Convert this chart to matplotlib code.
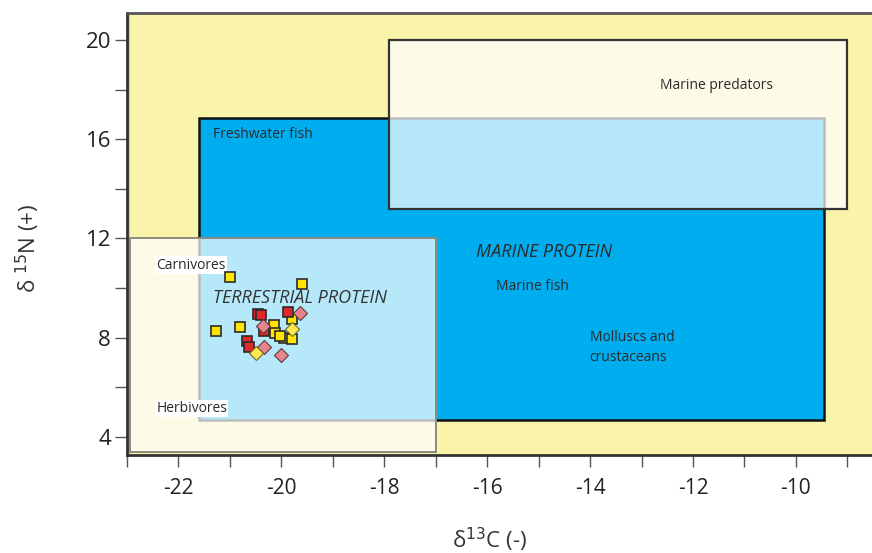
import matplotlib
matplotlib.use("Agg")
import matplotlib.pyplot as plt
from matplotlib.patches import Rectangle
from matplotlib.ticker import MultipleLocator, FixedLocator

# ---- data ----
# yellow squares
ysq_x = [-20.99, -19.60, -21.27, -20.80, -20.15, -19.80, -20.12, -19.95, -19.80, -20.02]
ysq_y = [10.46, 10.15, 8.27, 8.42, 8.52, 8.75, 8.19, 7.98, 7.94, 8.05]
# red squares
rsq_x = [-20.46, -20.40, -19.88, -20.34, -20.66, -20.62]
rsq_y = [8.95, 8.90, 9.03, 8.25, 7.85, 7.61]
# pink diamonds
pdi_x = [-19.63, -20.36, -20.33, -20.00]
pdi_y = [8.99, 8.48, 7.61, 7.29]
# yellow diamonds
ydi_x = [-19.80, -20.49]
ydi_y = [8.36, 7.38]

# regions (x0, x1, y0, y1)
freshwater_box = [-21.6, -9.45, 4.68, 16.85]
predators_box = [-17.9, -9.0, 13.2, 20.0]
terrestrial_box = [-22.94, -17.0, 3.4, 12.0]

x_major = [-22, -20, -18, -16, -14, -12, -10]
y_major = [4, 8, 12, 16, 20]

W, H = 872, 553
fig = plt.figure(figsize=(W / 100, H / 100), dpi=100)
fig.patch.set_facecolor("white")
ax = fig.add_axes([127 / W, 1 - 455 / H, 1 - 127 / W, (455 - 13) / H])
ax.set_xlim(-23, -8.52)
ax.set_ylim(3.27, 21.09)
ax.set_facecolor("#FAF4AA")

def box(b, **kw):
    x0, x1, y0, y1 = b
    ax.add_patch(Rectangle((x0, y0), x1 - x0, y1 - y0, **kw))

# tan strip along the left spine
ax.axvspan(-23, terrestrial_box[0], color="#CFC79A", zorder=0.5, lw=0)
box(freshwater_box, fc="#00AEEF", ec="#111111", lw=1.8, zorder=1)
box(predators_box, fc=(1, 1, 1, 0.72), ec="#333333", lw=1.6, zorder=2)
box(terrestrial_box, fc=(1, 1, 1, 0.72), ec="#8a8a80", lw=1.4, zorder=2)

tfont = ["Open Sans", "DejaVu Sans"]
tc = "#2a2a2a"
ax.text(-11.54, 18.15, "Marine predators", fontsize=10, family=tfont, color=tc,
        ha="center", va="center", zorder=5)
ax.text(-21.32, 16.2, "Freshwater fish", fontsize=10, family=tfont, color=tc,
        ha="left", va="center", zorder=5)
ax.text(-16.21, 11.45, "MARINE PROTEIN", fontsize=13, family=tfont, style="italic",
        color=tc, ha="left", va="center", zorder=5)
ax.text(-15.82, 10.08, "Marine fish", fontsize=10, family=tfont, color=tc,
        ha="left", va="center", zorder=5)
ax.text(-14.01, 7.6, "Molluscs and\ncrustaceans", fontsize=10, family=tfont, color=tc,
        ha="left", va="center", linespacing=1.4, zorder=5)
ax.text(-21.32, 9.6, "TERRESTRIAL PROTEIN", fontsize=13, family=tfont, style="italic",
        color="#333333", ha="left", va="center", zorder=5)
ax.text(-22.43, 10.93, "Carnivores", fontsize=10, family=tfont, color=tc,
        ha="left", va="center", zorder=5,
        bbox=dict(fc="white", ec="none", pad=0.8))
ax.text(-22.43, 5.16, "Herbivores", fontsize=10, family=tfont, color=tc,
        ha="left", va="center", zorder=5,
        bbox=dict(fc="white", ec="none", pad=0.8))

ax.plot(ysq_x, ysq_y, ls="none", marker="s", ms=6.5, mfc="#FFE500", mec="#2b2b2b",
        mew=1.2, zorder=6)
ax.plot(rsq_x, rsq_y, ls="none", marker="s", ms=6.5, mfc="#E02828", mec="#2b2b2b",
        mew=1.2, zorder=6)
ax.plot(pdi_x, pdi_y, ls="none", marker="D", ms=7.5, mfc="#E8848C", mec="#5a3a3a",
        mew=0.8, zorder=7)
ax.plot(ydi_x, ydi_y, ls="none", marker="D", ms=7.5, mfc="#FFE84A", mec="#6a6a3a",
        mew=0.8, zorder=7)

# axes styling
for s in ["left", "bottom", "top"]:
    ax.spines[s].set_color("#333333")
    ax.spines[s].set_linewidth(2.0)
ax.spines["top"].set_color("#555555")
ax.spines["right"].set_visible(False)

ax.xaxis.set_major_locator(FixedLocator(x_major))
ax.xaxis.set_minor_locator(MultipleLocator(1))
ax.yaxis.set_major_locator(FixedLocator(y_major))
ax.yaxis.set_minor_locator(FixedLocator([6, 10, 14, 18]))
ax.set_xticklabels([str(v) for v in x_major])
ax.set_yticklabels([str(v) for v in y_major])

ax.tick_params(axis="both", which="both", direction="out", length=8.5, width=1.0,
               color="#555555")
ax.tick_params(axis="x", which="both", pad=8)
ax.tick_params(axis="y", which="both", pad=3)
for lab in ax.get_xticklabels():
    lab.set_family(tfont)
    lab.set_fontsize(15)
    lab.set_color("#222222")
for lab in ax.get_yticklabels():
    lab.set_family(tfont)
    lab.set_fontsize(16)
    lab.set_color("#222222")

ax.set_xlabel("δ$^{13}$C (-)", fontsize=16, family=tfont, color="#333333")
ax.set_ylabel("δ $^{15}$N (+)", fontsize=16, family=tfont, color="#333333")
ax.xaxis.set_label_coords((490 - 127) / (W - 127), -(526 - 455) / (455 - 13))
ax.yaxis.set_label_coords(-(127 - 42) / (W - 127), (455 - 248) / (455 - 13))

fig.savefig("out.png", dpi=100)
